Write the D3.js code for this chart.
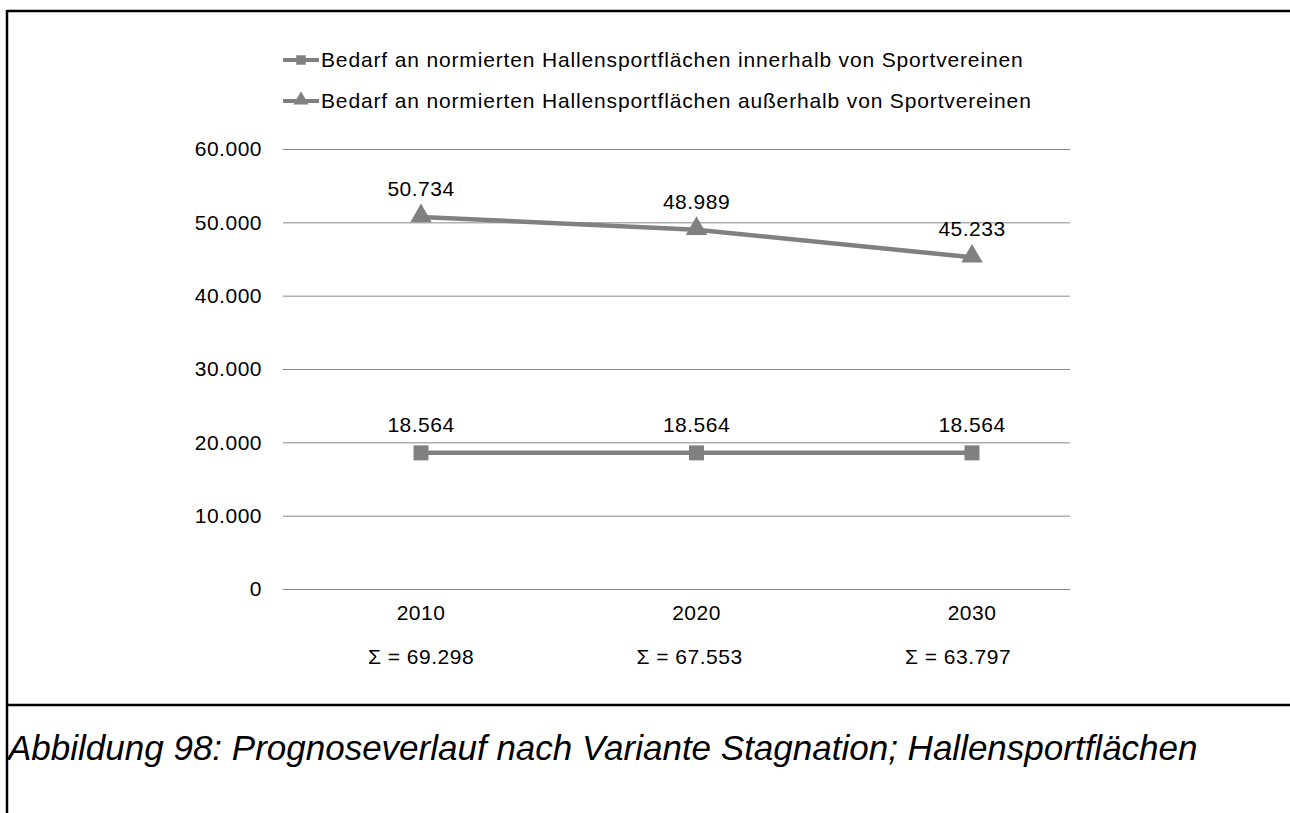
<!DOCTYPE html>
<html><head><meta charset="utf-8">
<script src="https://cdn.jsdelivr.net/npm/d3@7"></script>
<style>body{margin:0;background:#fff}svg{display:block}</style>
</head><body>
<svg id="c" width="1290" height="813"></svg>
<script>
const years = ["2010", "2020", "2030"];
const sums = ["Σ = 69.298", "Σ = 67.553", "Σ = 63.797"];
const innerhalb = [18564, 18564, 18564];
const ausserhalb = [50734, 48989, 45233];
const seriesNames = [
  "Bedarf an normierten Hallensportflächen innerhalb von Sportvereinen",
  "Bedarf an normierten Hallensportflächen außerhalb von Sportvereinen"
];
const yTicks = [0, 10000, 20000, 30000, 40000, 50000, 60000];
const caption = "Abbildung 98: Prognoseverlauf nach Variante Stagnation; Hallensportflächen";

const svg = d3.select("#c");
const font = "Liberation Sans, Arial, sans-serif";
const grey = "#808080";
const fmt = d3.format(",.0f");
const de = v => fmt(v).replace(/,/g, ".");
const FS = 21, LS = 0.5;

// frame
svg.append("line").attr("x1",7).attr("x2",1290).attr("y1",11).attr("y2",11).attr("stroke","#000").attr("stroke-width",2.5);
svg.append("line").attr("x1",7).attr("x2",7).attr("y1",10).attr("y2",813).attr("stroke","#000").attr("stroke-width",2.5);
svg.append("line").attr("x1",7).attr("x2",1290).attr("y1",705).attr("y2",705).attr("stroke","#000").attr("stroke-width",2.5);

const y = d3.scaleLinear().domain([0, 60000]).range([589, 149]);
const x = d3.scalePoint().domain(years).range([421, 972]);
const gx0 = 283, gx1 = 1070;

// gridlines
const yAxis = d3.axisLeft(y).tickValues(yTicks).tickFormat(d => de(d)).tickSize(-(gx1-gx0)).tickPadding(21);
const ga = svg.append("g").attr("transform", `translate(${gx0},0)`).call(yAxis);
ga.select(".domain").remove();
ga.selectAll(".tick line").attr("stroke", "#888").attr("stroke-width", 1);
ga.selectAll(".tick text").attr("font-family", font).attr("font-size", FS).attr("letter-spacing", LS).attr("fill", "#000");

// x labels
const xa = svg.append("g");
xa.selectAll("text.yr").data(years).join("text").attr("class","yr")
  .attr("x", d => x(d)).attr("y", 620).attr("text-anchor","middle")
  .attr("font-family", font).attr("font-size", FS).attr("letter-spacing", LS).text(d => d);
const sumX = d3.scalePoint().domain(years).range([421, 958]);
xa.selectAll("text.sm").data(years).join("text").attr("class","sm")
  .attr("x", (d) => sumX(d)).attr("y", 664).attr("text-anchor","middle")
  .attr("font-family", font).attr("font-size", FS).attr("letter-spacing", LS).text((d,i) => sums[i]);

const line = d3.line().x((d,i) => x(years[i])).y(d => y(d));

function series(vals, shape) {
  const g = svg.append("g");
  g.append("path").datum(vals).attr("d", line).attr("fill","none").attr("stroke", grey).attr("stroke-width", 4.5);
  const sym = d3.symbol().type(shape === "sq" ? d3.symbolSquare : d3.symbolTriangle).size(shape === "sq" ? 225 : 200);
  g.selectAll("path.m").data(vals).join("path").attr("class","m")
    .attr("d", sym).attr("fill", grey)
    .attr("transform", (d,i) => `translate(${x(years[i])},${y(d) + (shape==="sq"?0:-1)})`);
  g.selectAll("text").data(vals).join("text")
    .attr("x", (d,i) => x(years[i])).attr("y", d => y(d) - 21)
    .attr("text-anchor","middle").attr("font-family", font).attr("font-size", FS).attr("letter-spacing", LS).text(d => de(d));
}
series(ausserhalb, "tri");
series(innerhalb, "sq");

// legend
const lg = svg.append("g");
[0,1].forEach(i => {
  const ly = 60 + i*41;
  lg.append("line").attr("x1",283).attr("x2",319).attr("y1",ly).attr("y2",ly).attr("stroke",grey).attr("stroke-width",4);
  const sym = d3.symbol().type(i===0 ? d3.symbolSquare : d3.symbolTriangle).size(i===0 ? 90 : 100);
  lg.append("path").attr("d", sym).attr("fill", grey).attr("transform", `translate(301,${ly + (i===0?0:-1)})`);
  lg.append("text").attr("x", 321).attr("y", ly + 7).attr("font-family", font).attr("font-size", FS)
    .attr("letter-spacing", 0.85).text(seriesNames[i]);
});

// caption
svg.append("text").attr("x", 8).attr("y", 760).attr("font-family", font).attr("font-size", 35)
  .attr("font-style","italic").text(caption);
</script>
</body></html>
